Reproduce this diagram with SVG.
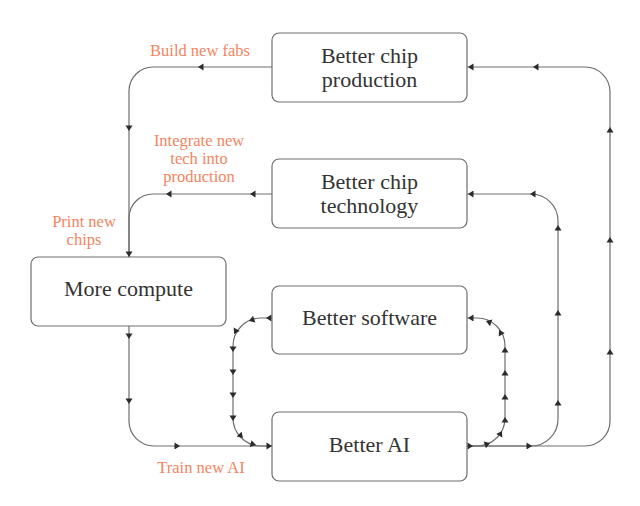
<svg xmlns="http://www.w3.org/2000/svg" xmlns:xlink="http://www.w3.org/1999/xlink" width="640" height="506" viewBox="0 0 640 506">
<defs>
<style>
.box{fill:#fff;stroke:#6e6e6e;stroke-width:1.2}
.lbl{font-family:'Liberation Serif','Times New Roman','DejaVu Serif',serif;font-size:22px;fill:#333;text-anchor:middle}
.note{font-family:'Liberation Serif','Times New Roman','DejaVu Serif',serif;font-size:16.5px;fill:#F4845F;text-anchor:middle}
.wire{fill:none;stroke:#6e6e6e;stroke-width:1.2}
.ah{fill:#2b2b2b}
</style>
<path id="ah" class="ah" d="M0,0 L-5.5,-3.5 L-5.5,3.5 Z"/>
</defs>
<rect width="640" height="506" fill="#fff"/>

<g id="connectors">
  <path class="wire" d="M272,67 L153,67 A24,24 0 0 0 129,91 L129,257"/>
  <path class="wire" d="M272,194 L153,194 A24,24 0 0 0 129,218 L129,257"/>
  <path class="wire" d="M129,326 L129,421 A25,25 0 0 0 154,446 L272,446"/>
  <path class="wire" d="M272,318 L261,318 A28,28 0 0 0 233,346 L233,418 A28,28 0 0 0 261,446 L272,446"/>
  <path class="wire" d="M467,446 L477,446 A28,28 0 0 0 505,418 L505,346 A28,28 0 0 0 477,318 L467,318"/>
  <path class="wire" d="M467,446 L531,446 A27,27 0 0 0 558,419 L558,221 A27,27 0 0 0 531,194 L467,194"/>
  <path class="wire" d="M467,446 L585,446 A25,25 0 0 0 610,421 L610,92 A25,25 0 0 0 585,67 L467,67"/>

  <use xlink:href="#ah" transform="translate(198,67) rotate(180)"/>
  <use xlink:href="#ah" transform="translate(129,131) rotate(90)"/>
  <use xlink:href="#ah" transform="translate(129,257) rotate(90)"/>
  <use xlink:href="#ah" transform="translate(250,194) rotate(180)"/>
  <use xlink:href="#ah" transform="translate(166,194) rotate(180)"/>

  <use xlink:href="#ah" transform="translate(129,339) rotate(90)"/>
  <use xlink:href="#ah" transform="translate(129,404) rotate(90)"/>
  <use xlink:href="#ah" transform="translate(180,446) rotate(0)"/>
  <use xlink:href="#ah" transform="translate(272,446) rotate(0)"/>

  <use xlink:href="#ah" transform="translate(266,318) rotate(180)"/>
  <use xlink:href="#ah" transform="translate(249,321) rotate(160)"/>
  <use xlink:href="#ah" transform="translate(234,334) rotate(120)"/>
  <use xlink:href="#ah" transform="translate(233,352) rotate(90)"/>
  <use xlink:href="#ah" transform="translate(233,375) rotate(90)"/>
  <use xlink:href="#ah" transform="translate(233,398) rotate(90)"/>
  <use xlink:href="#ah" transform="translate(233,421) rotate(90)"/>
  <use xlink:href="#ah" transform="translate(243,438) rotate(45)"/>
  <use xlink:href="#ah" transform="translate(256,445) rotate(15)"/>

  <use xlink:href="#ah" transform="translate(473,446) rotate(0)"/>
  <use xlink:href="#ah" transform="translate(490,443) rotate(-20)"/>
  <use xlink:href="#ah" transform="translate(502,431) rotate(-60)"/>
  <use xlink:href="#ah" transform="translate(505,417) rotate(-90)"/>
  <use xlink:href="#ah" transform="translate(505,394) rotate(-90)"/>
  <use xlink:href="#ah" transform="translate(505,370) rotate(-90)"/>
  <use xlink:href="#ah" transform="translate(505,347) rotate(-90)"/>
  <use xlink:href="#ah" transform="translate(499,330) rotate(-120)"/>
  <use xlink:href="#ah" transform="translate(486,321) rotate(-160)"/>
  <use xlink:href="#ah" transform="translate(468,318) rotate(180)"/>

  <use xlink:href="#ah" transform="translate(532,446) rotate(0)"/>
  <use xlink:href="#ah" transform="translate(558,400) rotate(-90)"/>
  <use xlink:href="#ah" transform="translate(558,310) rotate(-90)"/>
  <use xlink:href="#ah" transform="translate(558,225) rotate(-90)"/>
  <use xlink:href="#ah" transform="translate(530,194) rotate(180)"/>
  <use xlink:href="#ah" transform="translate(468,194) rotate(180)"/>

  <use xlink:href="#ah" transform="translate(610,349) rotate(-90)"/>
  <use xlink:href="#ah" transform="translate(610,237) rotate(-90)"/>
  <use xlink:href="#ah" transform="translate(610,127) rotate(-90)"/>
  <use xlink:href="#ah" transform="translate(533,67) rotate(180)"/>
  <use xlink:href="#ah" transform="translate(468,67) rotate(180)"/>
</g>

<g id="edge-labels">
  <text class="note" x="200" y="56">Build new fabs</text>
  <text class="note" x="199" y="145.5">Integrate new</text>
  <text class="note" x="199" y="163.5">tech into</text>
  <text class="note" x="199" y="181.5">production</text>
  <text class="note" x="84" y="227">Print new</text>
  <text class="note" x="84" y="245">chips</text>
  <text class="note" x="201" y="472.5">Train new AI</text>
</g>

<g id="node-production">
  <rect class="box" x="272" y="33" width="195" height="69" rx="7"/>
  <text class="lbl" x="369.5" y="63">Better chip</text>
  <text class="lbl" x="369.5" y="87">production</text>
</g>
<g id="node-technology">
  <rect class="box" x="272" y="159" width="195" height="69" rx="7"/>
  <text class="lbl" x="369.5" y="189">Better chip</text>
  <text class="lbl" x="369.5" y="213">technology</text>
</g>
<g id="node-compute">
  <rect class="box" x="31" y="257" width="195" height="69" rx="7"/>
  <text class="lbl" x="128.5" y="296">More compute</text>
</g>
<g id="node-software">
  <rect class="box" x="272" y="286" width="195" height="68" rx="7"/>
  <text class="lbl" x="369.5" y="325">Better software</text>
</g>
<g id="node-ai">
  <rect class="box" x="272" y="412" width="195" height="69" rx="7"/>
  <text class="lbl" x="369.5" y="452">Better AI</text>
</g>
</svg>
